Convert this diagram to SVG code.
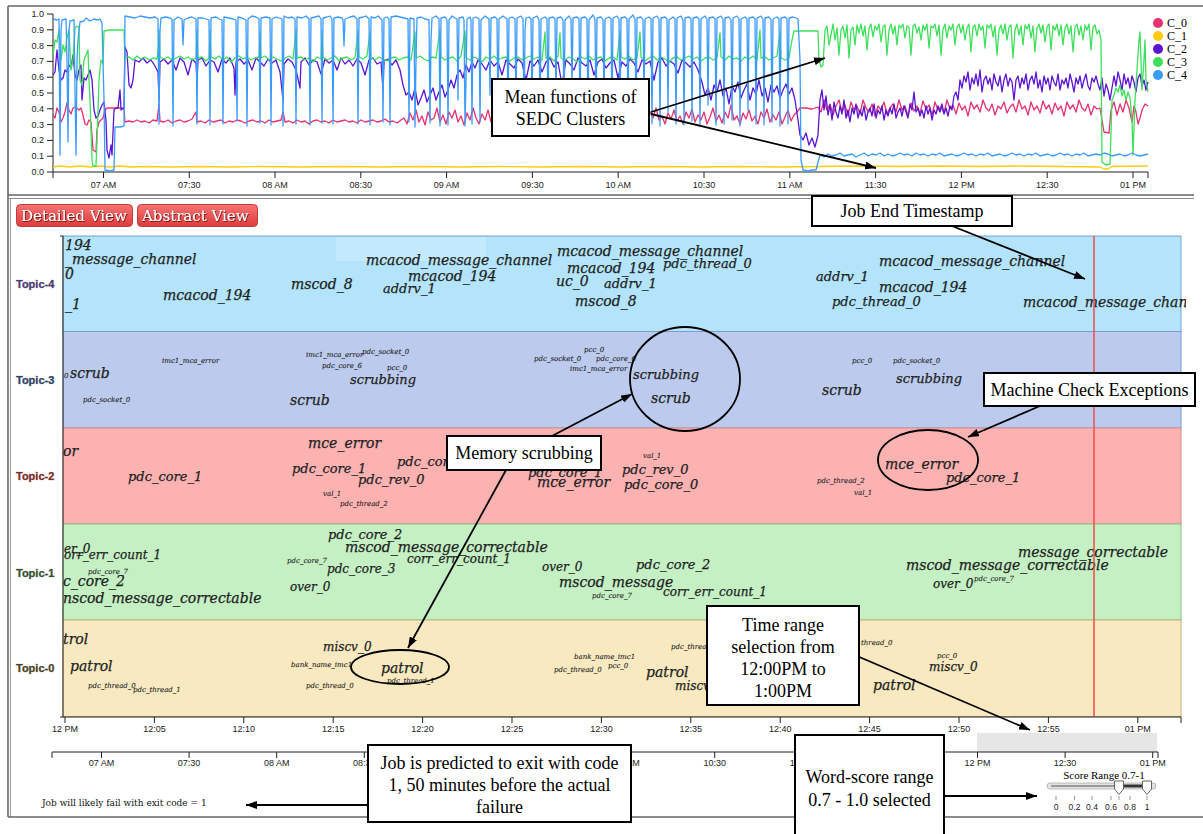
<svg xmlns="http://www.w3.org/2000/svg" width="1203" height="834" viewBox="0 0 1203 834">
<style>
  .frame{fill:none;stroke:#666;stroke-width:1.6}
  .ax{stroke:#222;stroke-width:1;fill:none}
  .tk{font-family:"Liberation Sans",Arial,sans-serif;font-size:9px;fill:#222}
  .tkm{font-family:"Liberation Sans",Arial,sans-serif;font-size:9px;fill:#222;text-anchor:middle}
  .ser{font-family:"Liberation Serif","Times New Roman",serif;fill:#000}
  .note{font-family:"Liberation Serif","Times New Roman",serif;font-size:18px;fill:#000;text-anchor:middle}
  .box{fill:#fff;stroke:#000;stroke-width:2}
  .conn{stroke:#000;stroke-width:1.8;fill:none;marker-end:url(#ah)}
  .hl{fill:none;stroke:#000;stroke-width:1.8}
  .s{fill:none;stroke-width:1.3;stroke-linejoin:round}
  .w{font-family:"DejaVu Serif",serif;font-style:italic;fill:#1e1e1e;stroke:#1e1e1e;stroke-width:0.25}
  .w14{font-size:14px}.w13{font-size:13px}.w12{font-size:12px}.w7{font-size:7px;stroke-width:0.1}
  .tl{font-family:"Liberation Sans",Arial,sans-serif;font-weight:bold;font-size:11px;stroke-width:0.7;paint-order:stroke;stroke-opacity:0.45}
  .btn{stroke:#c23a3a;stroke-width:1;fill:url(#btnGrad)}
  .btnt{font-family:"DejaVu Serif",serif;font-size:15px;fill:#fff;filter:url(#shadow)}
</style>
<defs>
  <marker id="ah" viewBox="0 0 11 8" refX="11" refY="4" markerWidth="11" markerHeight="8" markerUnits="userSpaceOnUse" orient="auto">
    <path d="M0,0 L11,4 L0,8 z" fill="#000"/>
  </marker>
  <linearGradient id="btnGrad" x1="0" y1="0" x2="0" y2="1">
    <stop offset="0" stop-color="#f77474"/>
    <stop offset="1" stop-color="#de3b3b"/>
  </linearGradient>
  <filter id="shadow" x="-5%" y="-20%" width="110%" height="150%">
    <feDropShadow dx="0.8" dy="0.8" stdDeviation="0.4" flood-color="#5a0000" flood-opacity="0.9"/>
  </filter>
  <clipPath id="bandClip"><rect x="63" y="236" width="1123" height="481"/></clipPath>
</defs>

<rect width="1203" height="834" fill="#fff"/>

<!-- panel frames -->
<g id="frames">
  <line x1="8" y1="6" x2="1203" y2="6" class="frame"/>
  <line x1="8" y1="6" x2="8" y2="817" class="frame"/>
  <line x1="10.5" y1="198" x2="10.5" y2="817" stroke="#999" stroke-width="1"/>
  <line x1="8" y1="195" x2="1194" y2="195" class="frame"/>
  <line x1="8" y1="198.5" x2="1194" y2="198.5" stroke="#888" stroke-width="1"/>
  <line x1="8" y1="817" x2="1203" y2="817" class="frame"/>
</g>

<!-- overview chart of cluster mean functions -->
<g id="overview-chart">
  <g id="overview-axes">
    <path class="ax" d="M47,14 H53 V172 H47 M53,172 V178 M53,172 H1148 V178"/>
    <path class="ax" d="M47,29.8H53M47,45.6H53M47,61.4H53M47,77.2H53M47,93H53M47,108.8H53M47,124.6H53M47,140.4H53M47,156.2H53
      M103.5,172v6M189.3,172v6M275,172v6M360.8,172v6M446.6,172v6M532.4,172v6M618.2,172v6M704,172v6M789.8,172v6M875.6,172v6M961.4,172v6M1047.2,172v6M1133,172v6"/>
    <g class="tk" text-anchor="end">
      <text x="44" y="17">1.0</text><text x="44" y="32.8">0.9</text><text x="44" y="48.6">0.8</text>
      <text x="44" y="64.4">0.7</text><text x="44" y="80.2">0.6</text><text x="44" y="96">0.5</text>
      <text x="44" y="111.8">0.4</text><text x="44" y="127.6">0.3</text><text x="44" y="143.4">0.2</text>
      <text x="44" y="159.2">0.1</text><text x="44" y="175">0.0</text>
    </g>
    <g class="tkm">
      <text x="103.5" y="188">07 AM</text><text x="189.3" y="188">07:30</text><text x="275" y="188">08 AM</text>
      <text x="360.8" y="188">08:30</text><text x="446.6" y="188">09 AM</text><text x="532.4" y="188">09:30</text>
      <text x="618.2" y="188">10 AM</text><text x="704" y="188">10:30</text><text x="789.8" y="188">11 AM</text>
      <text x="875.6" y="188">11:30</text><text x="961.4" y="188">12 PM</text><text x="1047.2" y="188">12:30</text>
      <text x="1133" y="188">01 PM</text>
    </g>
  </g>
  <g id="series">
    <!-- C_0 -->
    <path class="s" stroke="#e6336f" d="M53,115 L55,118 57,108 59,112 61,122 63,118 65,112 67,103 69,110 71,114 73,108 75,107 77,108 79,110 81,108 83,115 85,124 87,125 89,120 91,122 93,150 96,152 97,130 99,122 101,120 103,118 105,110 107,108 115,108 124,108 125,122
    129,121 133,122 137,120 141,122 145,121 149,123 153,120 157,121 159,104 160,121 164,122 168,120 172,123 176,121 180,120 184,122 188,121 192,119 196,112 197,122 201,121 205,123 209,120 213,122 217,121 221,120 225,123 229,121 233,122 237,120 241,121 245,123 249,121 253,120 257,122 261,121 265,123 269,120 273,122 277,121 281,120 283,112 285,122 289,121 293,123 297,120 301,122 305,121 309,124 313,121 317,120 321,122 325,121 329,123 333,120 337,122 341,121 345,120 349,122 353,121 357,123 361,120 365,122 369,121 373,120 377,122 381,121 385,119 389,122 393,121 397,123 401,120
    404,118 407,124 410,113 413,120 416,110 419,122 422,116 425,125 428,112 431,120 434,118 437,108 440,122 443,115 446,124 449,112 452,118 455,110 458,122 461,116 464,125 467,113 470,120 473,108 476,118 479,124 482,114 485,120 488,110 491,122 494,116 497,112 500,124 503,118 506,110 509,120 512,115 515,124 518,112 521,118 524,108 527,121 530,116 533,124 536,113 539,119 542,110 545,122 548,115 551,120 554,112 557,124 560,117 563,110 566,121 569,115 572,123 575,112 578,118 581,108 584,120 587,116 590,124 593,113 596,119 599,110 602,121 605,116 608,124 611,112 614,118 617,109 620,122 623,115 626,120 629,112 632,124 635,117 638,110 641,121 644,115 647,123 650,112 653,118 656,108 659,120 662,116 665,124 668,113 671,119 674,110 677,121 680,116 683,124 686,112 689,118 692,109 695,122 698,115 701,120 704,112 707,124 710,117 713,108 716,121 719,115 722,123 725,112 728,118 731,105 734,120 737,116 740,124 743,113 746,119 749,110 752,121 755,116 758,124 761,112 764,118 767,109 770,122 773,115 776,120 779,112 782,124 785,117 788,110 791,121 794,115 797,112 800,108
    806,108 812,109 818,107 821,112 824,100 827,110 830,104 833,115 836,106 839,100 842,112 845,105 848,116 851,102 854,110 857,106 860,114 863,100 866,108 869,112 872,104 875,116 878,106 881,110 884,102 887,114 890,108 893,104 896,112 899,100 902,110 905,106 908,116 911,103 914,111 917,106 920,113 923,101 926,109 929,105 932,115 935,102 938,110 941,107 944,113 947,100 950,109 953,105 956,114 959,103 962,110 965,106 968,116 971,102 974,109 977,105 980,112 983,100 986,108 989,111 992,104 995,115 998,106 1001,109 1004,102 1007,113 1010,107 1013,104 1016,112 1019,100 1022,109 1025,106 1028,115 1031,102 1034,110 1037,106 1040,113 1043,101 1046,109 1049,105 1052,114 1055,103 1058,110 1061,106 1064,116 1067,102 1070,109 1073,105 1076,112 1079,100 1082,108 1085,111 1088,104 1091,115 1094,106 1097,109 1100,108
    1102,120 1104,132 1109,133 1111,110 1114,102 1117,115 1120,104 1123,112 1126,100 1129,108 1132,122 1134,106 1136,112 1138,124 1140,118 1142,110 1145,104 1148,106"/>
    <!-- C_1 -->
    <path class="s" stroke="#ffcc11" d="M53,167 L60,166 70,167 80,166 90,167 100,166 110,167 120,166 130,167 150,166.5 170,167 200,166.5 230,167 260,166.5 300,167 340,166.5 380,167 420,166.5 460,167 500,166.5 540,167 580,166.5 620,167 660,166.5 700,167 740,166.5 780,167 820,166.5 860,166 900,166.5 940,166 980,166.5 1020,166 1060,166.5 1100,167 1104,169 1108,169 1112,166.5 1148,166"/>
    <!-- C_2 -->
    <path class="s" stroke="#5b14d3" d="M53,75 L55,72 57,50 59,70 61,80 63,78 65,70 67,72 69,65 71,68 73,55 75,75 77,80 79,70 81,65 82,100 84,78 86,80 88,75 90,70 92,80 94,110 96,118 98,116 100,110 102,105 104,102 106,120 107,150 109,158 111,145 112,155 114,110 116,108 118,108 120,90 121,110 124,108 125,47 127,52 129,85 131,88 133,80 135,60
    139,62 143,58 147,63 151,60 155,66 158,72 159,100 160,62 164,59 168,64 172,60 176,70 180,58 184,62 188,75 192,59 196,63 197,80 198,60 202,58 206,66 210,60 214,62 218,72 222,59 226,63 230,58 234,68 235,95 236,62 240,59 244,64 248,60 252,70 256,58 260,62 264,66 268,59 272,63 276,60 280,72 283,100 284,64 288,59 292,62 296,70 300,88 301,62 305,58 309,65 313,60 317,62 321,74 325,59 329,63 333,60 337,70 341,58 345,64 349,60 353,66 357,59 361,63 365,75 369,60 373,58 377,64 381,62 383,90 384,61 388,59 392,65 396,60 400,70
    403,85 406,95 409,92 412,100 415,88 418,105 421,98 424,90 427,102 430,95 433,88 436,100 439,92 442,85 445,97 448,90 451,80 454,88 457,75 460,70 463,78 466,65 469,72 472,62 475,68 478,60
    482,64 486,70 490,60 494,66 498,62 502,75 506,60 510,64 514,68 518,59 522,63 526,80 530,61 534,66 538,60 542,72 546,62 550,58 554,67 558,62 562,85 566,60 570,64 574,70 578,58 582,63 586,66 590,60 594,75 598,62 602,59 606,68 610,63 614,60 618,78 622,62 626,66 630,59 634,63 638,72 642,60 646,64 650,61 654,80 658,62 662,58 666,66 670,61 674,64 678,73 682,60 686,63 690,67 694,62 698,70
    702,82 705,95 708,88 711,100 714,85 717,92 720,80 723,96 726,88 729,104 732,86 735,92 738,82 741,98 744,90 747,84 750,100 753,88 756,94 759,80 762,96 765,88 768,102 771,85 774,92 777,86 780,98 783,90 786,84 789,94 792,88 795,100
    798,120 800,135 803,140 806,133 809,145 812,138 815,147 818,135 820,100
    822,90 824,110 826,96 828,115 830,105 832,120 834,102 836,112 838,118 840,106 842,114 844,100 846,118 848,110 850,122 852,108 854,114 856,104 858,118 860,110 862,116 864,106 866,120 868,112 870,108 872,116 874,104 876,118 878,110 880,114 882,106 884,120 886,110 888,116 890,108 892,114 894,104 896,118 898,112 900,108 902,116 904,106 906,112 908,118 910,104 912,110 914,92 916,112 918,108 920,116 922,110 924,118 926,106 928,114 930,108 932,120 934,110 936,114 938,106 940,112 942,104 944,114 946,108 948,116 950,106 952,110 954,96 956,92 958,100 960,80
    962,88 964,76 966,82 968,72 970,90 972,78 974,84 976,74 978,86 980,70 982,92 984,80 986,76 988,84 990,78 992,90 994,74 996,82 998,86 1000,76 1002,92 1004,80 1006,74 1008,86 1010,78 1012,82 1014,100 1016,80 1018,76 1020,88 1022,78 1024,84 1026,74 1028,90 1030,80 1032,76 1034,84 1036,72 1038,88 1040,80 1042,92 1044,76 1046,84 1048,78 1050,90 1052,76 1054,82 1056,86 1058,74 1060,90 1062,80 1064,84 1066,78 1068,88 1070,74 1072,82 1074,92 1076,78 1078,84 1080,76 1082,88 1084,80 1086,74 1088,86 1090,90 1092,78 1094,82 1096,76 1098,84 1100,90 1102,78
    1104,96 1106,84 1108,90 1110,100 1112,88 1114,76 1116,86 1118,72 1120,80 1122,90 1124,74 1126,84 1128,78 1130,88 1132,76 1134,82 1136,92 1138,78 1140,74 1142,86 1144,80 1146,90 1148,82"/>
    <!-- C_3 -->
    <path class="s" stroke="#3de05a" d="M53,55 L55,40 57,42 59,30 61,60 63,45 65,52 67,38 69,30 71,70 73,60 75,28 77,26 79,27 80,80 82,85 84,60 86,55 88,50 89,80 90,100 92,160 93,166 96,166 97,140 99,80 101,60 103,64 104,31 110,30 116,30 124,30 125,58
    129,57 133,60 137,56 141,59 145,57 149,60 153,58 157,59 158,50 159,30 160,57 164,59 168,57 172,60 176,58 180,56 184,59 188,57 192,60 196,58 197,30 198,58 202,57 206,61 209,58 210,30 211,57 215,59 219,56 223,60 227,57 231,62 235,58 239,56 243,59 247,57 251,60 255,58 259,57 260,32 261,58 265,56 269,60 273,57 277,59 281,61 285,58 289,56 293,59 296,30 297,58 301,57 305,60 309,58 313,62 317,57 321,59 322,31 323,57 327,60 331,58 335,56 339,61 343,58 347,57 351,60 355,58 358,31 359,57 363,59 367,56 370,32 371,58 375,60 379,57 383,59 387,61 391,58 395,57 399,60 403,58 407,57 411,60 415,32 416,58 420,56 424,59 428,61 432,57 436,58 440,30 441,57 445,60 449,58 453,57 457,61 461,56 465,31 466,58 470,60 474,57 478,59 482,62 486,57 490,59 494,56 498,60 502,58 506,57 510,61 514,58 518,57 522,60 526,58 530,56 534,59 538,57 542,60 545,32 546,58 550,57 554,61 558,56 560,33 561,58 565,60 569,57 573,59 577,62 581,57 585,59 589,56 593,60 597,58 601,57 605,61 609,58 613,57 617,60 620,31 621,57 625,59 629,56 633,60 637,58 640,32 641,57 645,61 649,58 653,56 657,60 661,57 665,59 669,62 673,58 677,57 681,60 685,58 689,56 693,59 697,57 701,61 705,58 709,57 713,60 717,58 720,33 721,57 725,60 729,56 733,59 737,58 741,61 745,57 749,59 753,56 757,60 760,30 761,58 765,57 769,60 773,58 777,56 780,32 781,58 785,60 789,58 792,40 794,31 800,31 806,31 812,31 818,31 819,60 821,67 823,65 825,30
    827,26 829,45 831,35 833,24 835,40 837,28 839,55 841,30 843,26 845,38 847,25 849,58 851,30 853,27 855,45 857,25 859,33 861,24 863,36 865,26 867,50 869,28 871,24 873,37 875,26 877,30 879,24 881,42 883,27 885,25 887,55 889,30 891,24 893,34 895,26 897,45 899,25 901,28 903,24 905,38 907,26 909,27 911,55 913,26 915,24 917,33 919,27 921,40 923,25 925,30 927,24 929,48 931,26 933,28 935,24 937,36 939,25 941,55 943,29 945,24 947,38 949,26 951,30 953,24 955,45 957,27 959,24 961,33 963,25 965,40 967,28 969,24 971,52 973,27 975,25 977,36 979,24 981,30 983,26 985,48 987,25 989,28 991,24 993,37 995,26 997,55 999,30 1001,25 1003,34 1005,24 1007,40 1009,27 1011,25 1013,58 1015,30 1017,24 1019,35 1021,26 1023,45 1025,25 1027,29 1029,24 1031,38 1033,26 1035,52 1037,28 1039,24 1041,33 1043,25 1045,42 1047,27 1049,24 1051,50 1053,26 1055,30 1057,24 1059,36 1061,25 1063,45 1065,28 1067,24 1069,34 1071,26 1073,52 1075,27 1077,24 1079,35 1081,26 1083,40 1085,25 1087,30 1089,24 1091,50 1093,27 1095,25 1097,34 1099,30 1101,40
    1102,162 1106,165 1110,164 1112,100 1114,95 1116,88 1118,92 1120,85 1122,96 1124,90 1126,100 1128,92 1130,98 1132,120 1133,155 1135,100 1137,70 1139,40 1140,32 1142,90 1144,60 1145,40 1146,80 1148,92"/>
    <!-- C_4 -->
    <path class="s" stroke="#3a9bff" d="M53,19 L57,20 59,19 60,155 61,30 62,20 66,19 67,60 68,142 69,30 70,21 74,20 75,90 76,155 77,60 78,40 80,22 84,21 86,18 90,21 94,19 98,20 100,19 102,23 104,100 105,170 110,171 114,170 115,127 120,127 124,126 125,16
    130,17 135,18 140,16 145,17 150,18 155,17 158,19 159,124 160,30 161,18 166,17 170,18 172,19 173,126 174,20 178,17 182,19 183,45 184,20 188,18 192,17 196,19 197,124 198,18 203,18 206,19 209,20 210,125 211,18 216,17 219,19 222,20 223,124 224,17 229,18 233,19 236,20 237,121 238,17 242,18 246,20 247,126 248,19 252,16 256,17 259,19 260,123 261,18 266,17 270,18 271,125 272,19 276,17 279,18 282,19 283,126 284,16 288,18 292,17 295,19 296,124 297,17 302,18 306,16 309,19 310,125 311,18 315,17 319,16 321,19 322,123 323,18 327,17 330,16 332,19 333,124 334,18 338,17 342,18 343,20 344,46 345,19 350,17 354,16 357,19 358,124 359,18 363,17 366,16 369,19 370,125 371,17 375,18 378,16 382,20 383,122 384,18 387,17 389,19 390,125 391,17 396,16 400,17
    404,18 408,19 409,122 410,18 414,19 415,127 416,60 417,18 421,17 425,19 429,20 430,123 431,40 432,18 436,16 439,19 440,126 441,18 445,17 447,20 448,125 449,20 452,16 455,18 457,19 458,100 459,18 463,17 464,20 465,126 466,80 467,19 470,17 471,20 472,124 473,18 476,17 479,19 480,122 481,20 485,16 489,19 490,95 491,18 495,17 497,19 498,123 499,19 503,16 507,19 508,126 509,18 512,17 515,19 516,110 517,18 521,16 523,19 524,124 525,30 526,18 529,17 531,19 532,120 533,18 537,16 539,20 540,127 541,19 545,17 547,19 548,125 549,18 553,17 555,19 556,100 557,18 561,17 563,20 564,124 565,20 569,16 571,19 572,88 573,18 577,17 579,19 580,126 581,18 585,17 587,19 588,123 589,20 593,15 595,19 596,125 597,18 601,17 603,20 604,105 605,19 609,17 611,19 612,125 613,18 617,16 619,19 620,124 621,18 625,17 627,19 628,122 629,19 633,15 635,19 636,126 637,18 641,17 643,20 644,98 645,19 649,17 651,19 652,124 653,18 657,16 659,19 660,126 661,18 665,17 667,19 668,112 669,20 673,17 675,19 676,124 677,18 681,16 683,20 684,125 685,18 689,17 691,19 692,121 693,18 697,17 699,19 700,126 701,19 705,16 707,19 708,105 709,18 713,17 715,19 716,125 717,18 721,16 723,19 724,124 725,18 729,17 731,20 732,120 733,18 737,16 739,19 740,126 741,19 745,17 747,19 748,110 749,18 753,17 755,19 756,124 757,18 761,16 763,19 764,125 765,18 769,17 771,20 772,122 773,19 777,17 779,19 780,126 781,18 785,17 787,19 788,124 789,18 793,17 796,18 798,19 800,60 801,160 803,170 808,171 812,170 816,170 818,162 820,155
    824,157 828,154 832,156 836,155 840,153 844,156 848,155 852,154 856,157 860,155 864,153 868,156 872,154 876,155 880,153 884,156 888,154 892,156 896,155 900,153 904,155 908,154 912,156 916,153 920,155 924,154 928,156 932,154 936,155 940,153 944,156 948,155 952,154 956,156 960,155 964,153 968,155 972,154 976,156 980,154 984,155 988,153 992,156 996,155 1000,154 1004,156 1008,155 1012,153 1016,155 1020,154 1024,156 1028,154 1032,155 1036,153 1040,156 1044,155 1048,154 1052,156 1056,155 1060,153 1064,155 1068,154 1072,156 1076,154 1080,155 1084,153 1088,156 1092,155 1096,154 1100,155 1104,153 1108,154 1112,156 1116,155 1120,154 1124,156 1128,155 1132,153 1136,155 1140,156 1144,155 1148,154"/>
  </g>
  <g id="legend" class="ser" font-size="12">
    <circle cx="1158" cy="23" r="5" fill="#e6336f"/><text x="1167" y="27">C_0</text>
    <circle cx="1158" cy="36" r="5" fill="#ffcc11"/><text x="1167" y="40">C_1</text>
    <circle cx="1158" cy="49" r="5" fill="#5b14d3"/><text x="1167" y="53">C_2</text>
    <circle cx="1158" cy="62" r="5" fill="#3de05a"/><text x="1167" y="66">C_3</text>
    <circle cx="1158" cy="75" r="5" fill="#3a9bff"/><text x="1167" y="79">C_4</text>
  </g>
</g>

<!-- view switch buttons -->
<g id="btn-detailed">
  <rect class="btn" x="16.5" y="204.5" width="116" height="22" rx="4"/>
  <text class="btnt" x="21" y="221">Detailed View</text>
</g>
<g id="btn-abstract">
  <rect class="btn" x="137.5" y="204.5" width="120" height="22" rx="4"/>
  <text class="btnt" x="142" y="221">Abstract View</text>
</g>

<!-- topic bands -->
<g id="topic-bands">
  <rect id="band-4" x="63" y="236" width="1118" height="95.5" fill="#b3e4fb" stroke="#6fa5d5" stroke-width="1"/>
  <rect x="336" y="237" width="150" height="24" fill="#fff" opacity="0.22"/>
  <rect id="band-3" x="63" y="331.5" width="1118" height="96.5" fill="#bccbed" stroke="#7b9bd2" stroke-width="1"/>
  <rect id="band-2" x="63" y="428" width="1118" height="96" fill="#fdb2b2" stroke="#d98d8d" stroke-width="1"/>
  <rect id="band-1" x="63" y="524" width="1118" height="96" fill="#c4f0c4" stroke="#8cc27e" stroke-width="1"/>
  <rect id="band-0" x="63" y="620" width="1118" height="96.5" fill="#f8e9c0" stroke="#c8b27a" stroke-width="1"/>
</g>

<g id="topic-labels" class="tl">
  <text x="16" y="288" fill="#4b3a6e" stroke="#4b3a6e">Topic-4</text>
  <text x="16" y="384" fill="#2f3f63" stroke="#2f3f63">Topic-3</text>
  <text x="16" y="480" fill="#7a2a2a" stroke="#7a2a2a">Topic-2</text>
  <text x="16" y="577" fill="#34502f" stroke="#34502f">Topic-1</text>
  <text x="16" y="672" fill="#4a4225" stroke="#4a4225">Topic-0</text>
</g>

<g id="topic-words" class="w" clip-path="url(#bandClip)">
  <g id="words-4">
    <text class="w14" x="65" y="250">194</text>
    <text class="w14" x="65" y="264">_message_channel</text>
    <text class="w14" x="65" y="279">0</text>
    <text class="w14" x="65" y="309">_1</text>
    <text class="w14" x="163" y="300">mcacod_194</text>
    <text class="w14" x="291" y="289">mscod_8</text>
    <text class="w14" x="366" y="265">mcacod_message_channel</text>
    <text class="w14" x="408" y="281">mcacod_194</text>
    <text class="w13" x="383" y="293">addrv_1</text>
    <text class="w14" x="557" y="256">mcacod_message_channel</text>
    <text class="w14" x="567" y="273">mcacod_194</text>
    <text class="w13" x="663" y="268">pdc_thread_0</text>
    <text class="w14" x="556" y="286">uc_0</text>
    <text class="w13" x="604" y="288">addrv_1</text>
    <text class="w14" x="575" y="306">mscod_8</text>
    <text class="w13" x="816" y="281">addrv_1</text>
    <text class="w14" x="879" y="266">mcacod_message_channel</text>
    <text class="w14" x="879" y="292">mcacod_194</text>
    <text class="w13" x="832" y="306">pdc_thread_0</text>
    <text class="w14" x="1023" y="307">mcacod_message_chan</text>
  </g>
  <g id="words-3">
    <text class="w7" x="64" y="378">0</text>
    <text class="w14" x="70" y="378">scrub</text>
    <text class="w7" x="162" y="363">imc1_mca_error</text>
    <text class="w7" x="83" y="402">pdc_socket_0</text>
    <text class="w7" x="306" y="357">imc1_mca_error</text>
    <text class="w7" x="362" y="354">pdc_socket_0</text>
    <text class="w7" x="322" y="368">pdc_core_6</text>
    <text class="w7" x="387" y="370">pcc_0</text>
    <text class="w13" x="350" y="384">scrubbing</text>
    <text class="w14" x="290" y="405">scrub</text>
    <text class="w7" x="584" y="352">pcc_0</text>
    <text class="w7" x="534" y="361">pdc_socket_0</text>
    <text class="w7" x="596" y="361">pdc_core_6</text>
    <text class="w7" x="570" y="371">imc1_mca_error</text>
    <text class="w13" x="633" y="379">scrubbing</text>
    <text class="w14" x="651" y="403">scrub</text>
    <text class="w7" x="852" y="363">pcc_0</text>
    <text class="w7" x="893" y="363">pdc_socket_0</text>
    <text class="w13" x="896" y="383">scrubbing</text>
    <text class="w14" x="822" y="395">scrub</text>
  </g>
  <g id="words-2">
    <text class="w14" x="63" y="456">or</text>
    <text class="w13" x="128" y="481">pdc_core_1</text>
    <text class="w14" x="308" y="448">mce_error</text>
    <text class="w13" x="292" y="473">pdc_core_1</text>
    <text class="w13" x="358" y="484">pdc_rev_0</text>
    <text class="w13" x="397" y="466">pdc_cor</text>
    <text class="w7" x="323" y="496">val_1</text>
    <text class="w7" x="340" y="506">pdc_thread_2</text>
    <text class="w7" x="643" y="458">val_1</text>
    <text class="w13" x="622" y="474">pdc_rev_0</text>
    <text class="w13" x="528" y="477">pdc_core_1</text>
    <text class="w14" x="537" y="487">mce_error</text>
    <text class="w13" x="624" y="489">pdc_core_0</text>
    <text class="w7" x="817" y="483">pdc_thread_2</text>
    <text class="w7" x="854" y="495">val_1</text>
    <text class="w14" x="885" y="469">mce_error</text>
    <text class="w13" x="946" y="482">pdc_core_1</text>
  </g>
  <g id="words-1">
    <text class="w12" x="64" y="553">er_0</text>
    <text class="w12" x="64" y="559">orr_err_count_1</text>
    <text class="w7" x="88" y="574">pdc_core_7</text>
    <text class="w14" x="63" y="586">c_core_2</text>
    <text class="w14" x="63" y="603">nscod_message_correctable</text>
    <text class="w13" x="328" y="539">pdc_core_2</text>
    <text class="w14" x="345" y="552">mscod_message_correctable</text>
    <text class="w7" x="287" y="563">pdc_core_7</text>
    <text class="w12" x="327" y="573">pdc_core_3</text>
    <text class="w12" x="290" y="591">over_0</text>
    <text class="w12" x="407" y="563">corr_err_count_1</text>
    <text class="w12" x="542" y="571">over_0</text>
    <text class="w13" x="636" y="569">pdc_core_2</text>
    <text class="w14" x="559" y="587">mscod_message</text>
    <text class="w7" x="592" y="598">pdc_core_7</text>
    <text class="w12" x="663" y="596">corr_err_count_1</text>
    <text class="w14" x="1018" y="557">message_correctable</text>
    <text class="w14" x="906" y="570">mscod_message_correctable</text>
    <text class="w12" x="933" y="588">over_0</text>
    <text class="w7" x="974" y="581">pdc_core_7</text>
  </g>
  <g id="words-0">
    <text class="w14" x="63" y="644">trol</text>
    <text class="w14" x="70" y="671">patrol</text>
    <text class="w7" x="88" y="688">pdc_thread_0</text>
    <text class="w7" x="133" y="692">pdc_thread_1</text>
    <text class="w12" x="323" y="651">miscv_0</text>
    <text class="w7" x="291" y="667">bank_name_imc1</text>
    <text class="w7" x="306" y="688">pdc_thread_0</text>
    <text class="w14" x="381" y="673">patrol</text>
    <text class="w7" x="387" y="683">pdc_thread_1</text>
    <text class="w7" x="574" y="659">bank_name_imc1</text>
    <text class="w7" x="608" y="668">pcc_0</text>
    <text class="w7" x="554" y="672">pdc_thread_0</text>
    <text class="w14" x="646" y="677">patrol</text>
    <text class="w7" x="671" y="649">pdc_threa</text>
    <text class="w12" x="675" y="690">miscv_</text>
    <text class="w7" x="861" y="645">thread_0</text>
    <text class="w7" x="937" y="658">pcc_0</text>
    <text class="w12" x="929" y="671">miscv_0</text>
    <text class="w14" x="873" y="690">patrol</text>
  </g>
</g>

<!-- job end marker -->
<line id="job-end-line" x1="1094" y1="236" x2="1094" y2="716" stroke="#ef4b4b" stroke-width="1.5"/>

<!-- detail time axis -->
<g id="detail-axis">
  <path class="ax" d="M60,236 H63 V717 H60 M63,717 H1181 V723
    M65,717v6M154.4,717v6M243.8,717v6M333.2,717v6M422.6,717v6M512,717v6M601.4,717v6M690.8,717v6M780.2,717v6M869.6,717v6M959,717v6M1048.4,717v6M1137.8,717v6"/>
  <g class="tkm">
    <text x="65" y="732">12 PM</text><text x="154.4" y="732">12:05</text><text x="243.8" y="732">12:10</text>
    <text x="333.2" y="732">12:15</text><text x="422.6" y="732">12:20</text><text x="512" y="732">12:25</text>
    <text x="601.4" y="732">12:30</text><text x="690.8" y="732">12:35</text><text x="780.2" y="732">12:40</text>
    <text x="869.6" y="732">12:45</text><text x="959" y="732">12:50</text><text x="1048.4" y="732">12:55</text>
    <text x="1137.8" y="732">01 PM</text>
  </g>
</g>

<!-- brush timeline -->
<g id="brush">
  <rect x="977" y="733" width="180" height="19" fill="#e6e6e6"/>
  <path class="ax" d="M52,758 V752 H1158 V758
    M101.5,752v6M189.1,752v6M276.7,752v6M364.3,752v6M627.1,752v6M714.7,752v6M802.3,752v6M977.5,752v6M1065.1,752v6M1152.7,752v6"/>
  <g class="tkm">
    <text x="101.5" y="766">07 AM</text><text x="189.1" y="766">07:30</text><text x="276.7" y="766">08 AM</text>
    <text x="364.3" y="766">08:30</text><text x="627.1" y="766">10 AM</text><text x="714.7" y="766">10:30</text>
    <text x="802.3" y="766">11 AM</text><text x="977.5" y="766">12 PM</text><text x="1065.1" y="766">12:30</text>
    <text x="1152.7" y="766">01 PM</text>
  </g>
</g>

<!-- score range slider -->
<g id="score-slider">
  <text class="ser" x="1104" y="779" font-size="11" text-anchor="middle">Score Range 0.7-1</text>
  <rect x="1047" y="783" width="109" height="6" rx="3" fill="#e2e2e2" stroke="#b0b0b0" stroke-width="0.8"/>
  <line x1="1051" y1="786" x2="1119" y2="786" stroke="#555" stroke-width="1"/>
  <line x1="1119" y1="786" x2="1147" y2="786" stroke="#333" stroke-width="3"/>
  <path d="M1114.5,781 h9 v8 l-4.5,5.5 l-4.5,-5.5 z M1142.5,781 h9 v8 l-4.5,5.5 l-4.5,-5.5 z" fill="#fff" stroke="#666" stroke-width="1"/>
  <path d="M1056,796v4M1074.5,796v4M1092,796v4M1111,796v4M1119,796v4M1130,796v4M1147,796v4" stroke="#999" stroke-width="1"/>
  <g class="tkm">
    <text x="1056" y="810" font-size="8.5">0</text><text x="1074.5" y="810" font-size="8.5">0.2</text>
    <text x="1092" y="810" font-size="8.5">0.4</text><text x="1111" y="810" font-size="8.5">0.6</text>
    <text x="1130" y="810" font-size="8.5">0.8</text><text x="1147" y="810" font-size="8.5">1</text>
  </g>
</g>

<text id="prediction" x="42" y="806" font-family="DejaVu Serif, serif" font-size="9" fill="#111">Job will likely fail with exit code = 1</text>

<!-- highlight outlines -->
<g id="highlights">
  <ellipse id="hl-scrubbing" cx="685" cy="379" rx="55" ry="52" class="hl"/>
  <ellipse id="hl-mce" cx="928" cy="460" rx="50" ry="30" class="hl"/>
  <ellipse id="hl-patrol" cx="400" cy="667" rx="49" ry="17" class="hl"/>
</g>

<!-- callout connectors -->
<g id="connectors">
  <line class="conn" x1="651" y1="112" x2="825" y2="58"/>
  <line class="conn" x1="651" y1="114" x2="876" y2="168"/>
  <line class="conn" x1="952" y1="226" x2="1085" y2="279"/>
  <line class="conn" x1="1040" y1="406" x2="968" y2="437"/>
  <line class="conn" x1="552" y1="436" x2="632" y2="394"/>
  <line class="conn" x1="506" y1="470" x2="408" y2="648"/>
  <line class="conn" x1="857" y1="656" x2="1030" y2="730"/>
  <line class="conn" x1="368" y1="805" x2="246" y2="805"/>
  <line class="conn" x1="944" y1="796" x2="1037" y2="796"/>
</g>

<!-- callout boxes -->
<g id="note-mean-functions">
  <rect class="box" x="492" y="79" width="157" height="57"/>
  <text class="note" x="570.5" y="103">Mean functions of</text>
  <text class="note" x="570.5" y="125">SEDC Clusters</text>
</g>
<g id="note-job-end">
  <rect class="box" x="812" y="196" width="200" height="30"/>
  <text class="note" x="912" y="217">Job End Timestamp</text>
</g>
<g id="note-mce">
  <rect class="box" x="984" y="373" width="211" height="33"/>
  <text class="note" x="1089.5" y="396">Machine Check Exceptions</text>
</g>
<g id="note-scrubbing">
  <rect class="box" x="447" y="436" width="154" height="34"/>
  <text class="note" x="524" y="459">Memory scrubbing</text>
</g>
<g id="note-time-range">
  <rect class="box" x="707" y="606" width="152" height="99"/>
  <text class="note" x="783" y="631">Time range</text>
  <text class="note" x="783" y="653">selection from</text>
  <text class="note" x="783" y="675">12:00PM to</text>
  <text class="note" x="783" y="697">1:00PM</text>
</g>
<g id="note-prediction">
  <rect class="box" x="368" y="745" width="263" height="77"/>
  <text class="note" x="499.5" y="769">Job is predicted to exit with code</text>
  <text class="note" x="499.5" y="791">1, 50 minutes before the actual</text>
  <text class="note" x="499.5" y="813">failure</text>
</g>
<g id="note-word-score">
  <rect class="box" x="795" y="735" width="149" height="110"/>
  <text class="note" x="869.5" y="783">Word-score range</text>
  <text class="note" x="869.5" y="806">0.7 - 1.0 selected</text>
</g>
</svg>
